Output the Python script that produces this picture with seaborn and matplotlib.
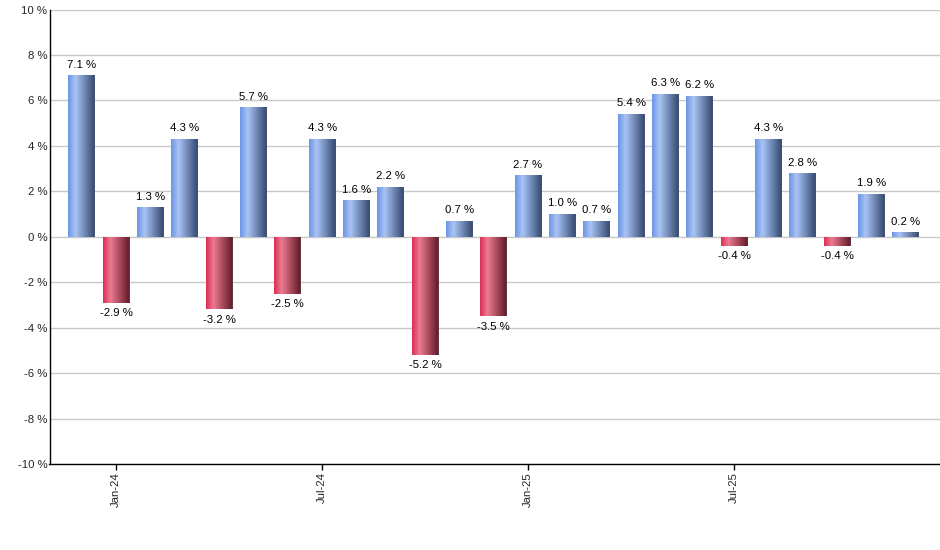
import matplotlib
matplotlib.use("Agg")
import matplotlib.pyplot as plt
import seaborn as sns
import numpy as np
import pandas as pd
from matplotlib.colors import LinearSegmentedColormap

months = ["Dec-23", "Jan-24", "Feb-24", "Mar-24", "Apr-24", "May-24", "Jun-24",
          "Jul-24", "Aug-24", "Sep-24", "Oct-24", "Nov-24", "Dec-24",
          "Jan-25", "Feb-25", "Mar-25", "Apr-25", "May-25", "Jun-25",
          "Jul-25", "Aug-25", "Sep-25", "Oct-25", "Nov-25", "Dec-25"]
values = [7.1, -2.9, 1.3, 4.3, -3.2, 5.7, -2.5, 4.3, 1.6, 2.2, -5.2, 0.7, -3.5,
          2.7, 1.0, 0.7, 5.4, 6.3, 6.2, -0.4, 4.3, 2.8, -0.4, 1.9, 0.2]
tick_labels = ["Jan-24", "Jul-24", "Jan-25", "Jul-25"]
y_ticks = [-10, -8, -6, -4, -2, 0, 2, 4, 6, 8, 10]

sns.set_theme(style="white")
plt.rcParams['font.family'] = ['Liberation Sans', 'DejaVu Sans']

df = pd.DataFrame({"month": months, "value": values})
df["sign"] = np.where(df["value"] >= 0, "pos", "neg")

fig = plt.figure(figsize=(9.4, 5.5), dpi=100)
ax = fig.add_axes([49.5 / 940, 1 - 464 / 550, 890.5 / 940, (464 - 9.5) / 550])

sns.barplot(data=df, x="month", y="value", hue="sign", order=months,
            palette={"pos": "#7fa0e0", "neg": "#d03050"}, dodge=False,
            width=0.78, legend=False, ax=ax, linewidth=0, saturation=1)

blue = LinearSegmentedColormap.from_list("b", [(0, "#6b94e6"), (0.28, "#a9c4f5"), (0.95, "#3a4f77"), (1.0, "#4a5568")])
red = LinearSegmentedColormap.from_list("r", [(0, "#db2c53"), (0.28, "#ec7b91"), (0.95, "#6a1d2c"), (1.0, "#5a4a4e")])
grad = np.linspace(0, 1, 256).reshape(1, -1)

for p in list(ax.patches):
    h = p.get_height()
    if h is None or np.isnan(h) or h == 0:
        continue
    x0 = p.get_x()
    w = p.get_width()
    y0, y1 = sorted([p.get_y(), p.get_y() + h])
    cmap = blue if h > 0 else red
    im = ax.imshow(grad, extent=[x0, x0 + w, y0, y1], aspect="auto", cmap=cmap,
                   zorder=p.get_zorder() + 0.1, interpolation="bilinear")
    im.set_clip_path(p)

for i, v in enumerate(values):
    ax.annotate(f"{v:.1f} %", (i, v), xytext=(0, 4 if v >= 0 else -4),
                textcoords="offset points", ha="center",
                va="bottom" if v >= 0 else "top", fontsize=8.2, color="black")

ax.set_xlim(-0.94, 25.0)
ax.set_ylim(-10, 10)
ax.set_yticks(y_ticks)
ax.set_yticklabels([f"{t} %" for t in y_ticks], fontsize=8.2)
ax.set_xticks([months.index(t) for t in tick_labels])
ax.set_xticklabels(tick_labels, rotation=90, fontsize=8.2)
ax.tick_params(axis="x", length=4, width=1, color="black", direction="out", pad=2, bottom=True)
ax.tick_params(axis="y", length=0, pad=1.5)
ax.set_xlabel("")
ax.set_ylabel("")
ax.yaxis.grid(True, color="#c8c8c8", lw=1)
ax.set_axisbelow(True)
for s in ["top", "right"]:
    ax.spines[s].set_visible(False)
for s in ["left", "bottom"]:
    ax.spines[s].set_color("black")
    ax.spines[s].set_linewidth(1)

fig.savefig("out.png", dpi=100)
